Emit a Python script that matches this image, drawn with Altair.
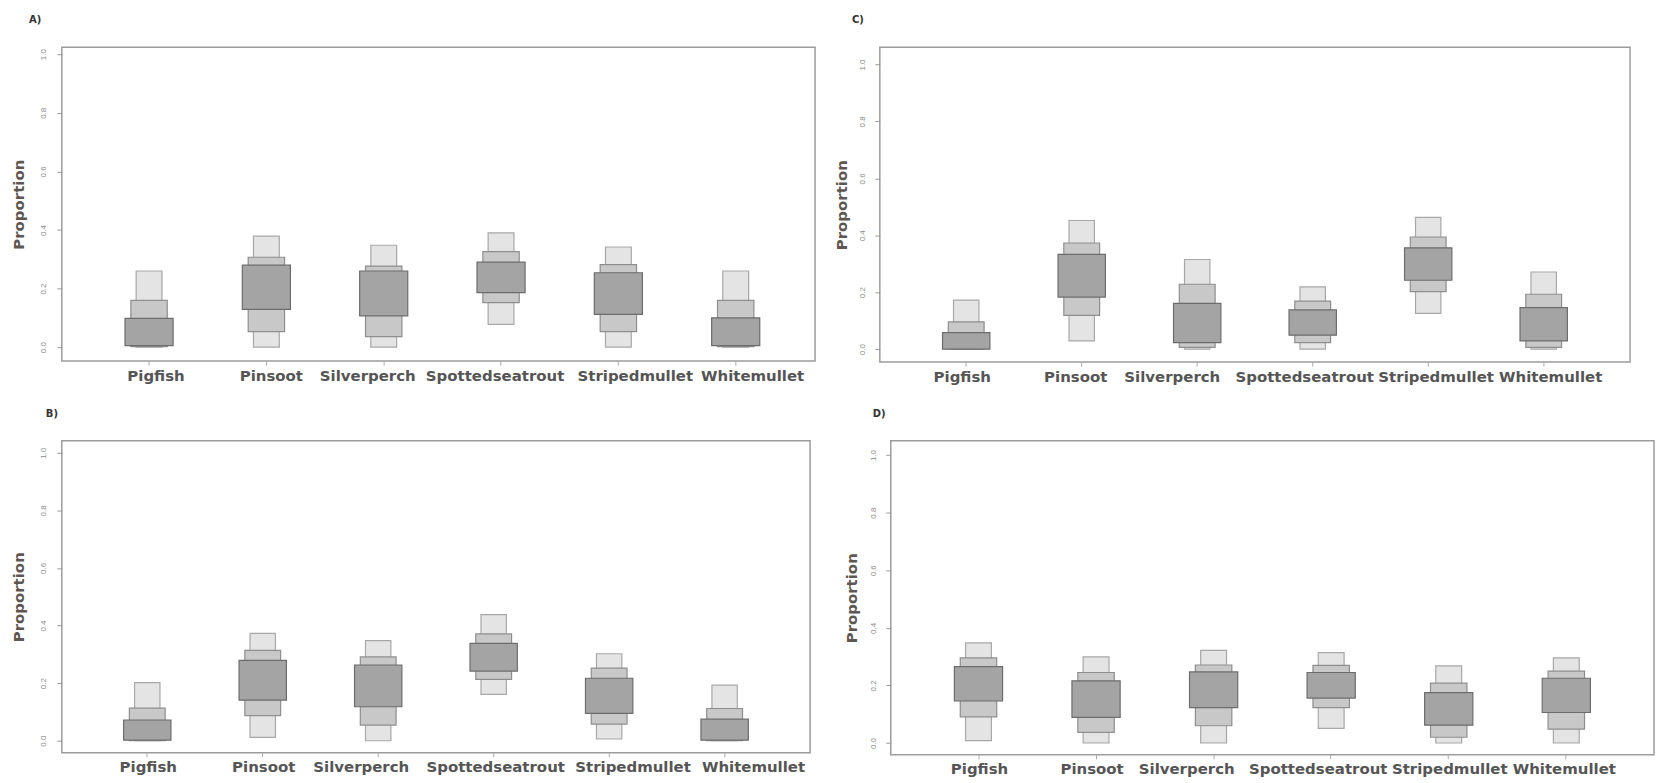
import altair as alt
import pandas as pd

species = ["Pigfish", "Pinsoot", "Silverperch", "Spottedseatrout", "Stripedmullet", "Whitemullet"]
y_ticks = [0.0, 0.2, 0.4, 0.6, 0.8, 1.0]

# Panel A
A_light_lo = [0.0, 0.0, 0.0, 0.078, 0.0, 0.0]
A_light_hi = [0.26, 0.379, 0.348, 0.39, 0.342, 0.26]
A_mid_lo = [0.002, 0.053, 0.036, 0.152, 0.053, 0.002]
A_mid_hi = [0.16, 0.307, 0.277, 0.326, 0.282, 0.16]
A_dark_lo = [0.005, 0.129, 0.107, 0.186, 0.112, 0.005]
A_dark_hi = [0.098, 0.28, 0.26, 0.29, 0.254, 0.10]

# Panel B
B_light_lo = [0.0, 0.012, 0.0, 0.161, 0.006, 0.0]
B_light_hi = [0.202, 0.373, 0.348, 0.438, 0.302, 0.193]
B_mid_lo = [0.0, 0.087, 0.054, 0.213, 0.058, 0.0]
B_mid_hi = [0.113, 0.314, 0.291, 0.371, 0.252, 0.112]
B_dark_lo = [0.002, 0.141, 0.118, 0.242, 0.095, 0.002]
B_dark_hi = [0.072, 0.279, 0.263, 0.338, 0.217, 0.075]

# Panel C
C_light_lo = [0.0, 0.029, 0.0, 0.0, 0.126, 0.0]
C_light_hi = [0.172, 0.452, 0.315, 0.219, 0.463, 0.271]
C_mid_lo = [0.0, 0.119, 0.006, 0.023, 0.202, 0.006]
C_mid_hi = [0.096, 0.373, 0.228, 0.169, 0.394, 0.193]
C_dark_lo = [0.0, 0.183, 0.023, 0.049, 0.242, 0.029]
C_dark_hi = [0.058, 0.333, 0.161, 0.138, 0.356, 0.146]

# Panel D
D_light_lo = [0.008, 0.0, 0.0, 0.051, 0.0, 0.0]
D_light_hi = [0.348, 0.299, 0.322, 0.314, 0.268, 0.296]
D_mid_lo = [0.091, 0.037, 0.06, 0.123, 0.02, 0.048]
D_mid_hi = [0.296, 0.245, 0.271, 0.27, 0.208, 0.25]
D_dark_lo = [0.146, 0.089, 0.123, 0.156, 0.062, 0.106]
D_dark_hi = [0.265, 0.216, 0.247, 0.245, 0.175, 0.225]

STYLES = [
    ("light", 0.22, "#e4e4e4", "#a8a8a8"),
    ("mid", 0.31, "#c8c8c8", "#8e8e8e"),
    ("dark", 0.41, "#a4a4a4", "#6c6c6c"),
]


def panel(label, ranges, width, height, domain, po, align, t_dx, lab_pad, title_pad, label_shift):
    rows = []
    for lvl, (lo, hi) in ranges.items():
        for i, s in enumerate(species):
            rows.append({"species": s, "level": lvl, "lo": lo[i], "hi": hi[i]})
    df = pd.DataFrame(rows)
    base = alt.Chart(df)
    offset_cond = {
        "condition": [
            {"test": f"datum.value === '{s}'", "value": d}
            for s, d in zip(species, label_shift)
        ],
        "value": 0,
    }
    x = alt.X(
        "species:N",
        sort=species,
        title=None,
        scale=alt.Scale(paddingInner=0, paddingOuter=po, align=align),
        axis=alt.Axis(
            labelAngle=0, labelFont="DejaVu Sans", labelFontSize=15, labelFontWeight="bold",
            labelColor="#555555", labelPadding=3, tickSize=4, tickColor="#aaaaaa",
            domain=False, grid=False, labelOverlap=False, labelBound=False, labelFlush=False,
            labelOffset=offset_cond,
        ),
    )
    y = alt.Y(
        "lo:Q",
        title="Proportion",
        scale=alt.Scale(domain=domain, nice=False, zero=False),
        axis=alt.Axis(
            values=y_ticks, format=".1f", labelAngle=270, labelAlign="center",
            labelBaseline="bottom", labelFontSize=8, labelColor="#8c8c8c",
            labelPadding=lab_pad, tickSize=5, tickColor="#999999", domain=False, grid=False,
            titleFont="DejaVu Sans", titleFontSize=15, titleFontWeight="bold",
            titleColor="#5e5650", titlePadding=title_pad,
        ),
    )
    layers = []
    for lvl, frac, fill, stroke in STYLES:
        layers.append(
            base.transform_filter(alt.datum.level == lvl)
            .mark_bar(width={"band": frac}, fill=fill, stroke=stroke, strokeWidth=1.2)
            .encode(x=x, y=y, y2="hi:Q")
        )
    return alt.layer(*layers).properties(
        width=width,
        height=height,
        title=alt.Title(
            label, anchor="start", frame="group", dx=t_dx, offset=22,
            fontSize=10, fontWeight="bold", font="DejaVu Sans", color="#333333",
        ),
    )


A = panel("A)", {"light": (A_light_lo, A_light_hi), "mid": (A_mid_lo, A_mid_hi),
                 "dark": (A_dark_lo, A_dark_hi)},
          756, 315, [-0.0476, 1.0238], 0.21, 0.58, -33, 9, 13, [7, 5, -16, -6, 17, 17])
C = panel("C)", {"light": (C_light_lo, C_light_hi), "mid": (C_mid_lo, C_mid_hi),
                 "dark": (C_dark_lo, C_dark_hi)},
          753, 316, [-0.0455, 1.0606], 0.248, 0.5, -28, 8, 9.5, [-4, -6, -25, -8, 8, 7])
B = panel("B)", {"light": (B_light_lo, B_light_hi), "mid": (B_mid_lo, B_mid_hi),
                 "dark": (B_dark_lo, B_dark_hi)},
          751, 313, [-0.0415, 1.0415], 0.24, 0.5, -16, 9, 13, [1, 1, -17, 2, 24, 29])
D = panel("D)", {"light": (D_light_lo, D_light_hi), "mid": (D_mid_lo, D_mid_hi),
                 "dark": (D_dark_lo, D_dark_hi)},
          766, 315, [-0.0405, 1.0495], 0.246, 0.5, -18, 8, 10, [1, -4, -27, -13, 1, -2])

chart = alt.vconcat(
    alt.hconcat(A, C, spacing=17),
    alt.hconcat(B, D, spacing=33),
    spacing=23,
).properties(
    padding={"left": 3, "top": 5, "right": 0, "bottom": 0},
    background="white",
).configure_view(
    stroke="#9c9c9c", strokeWidth=1.5
)

chart.save("out.html", embed_options={"renderer": "svg", "actions": False})
